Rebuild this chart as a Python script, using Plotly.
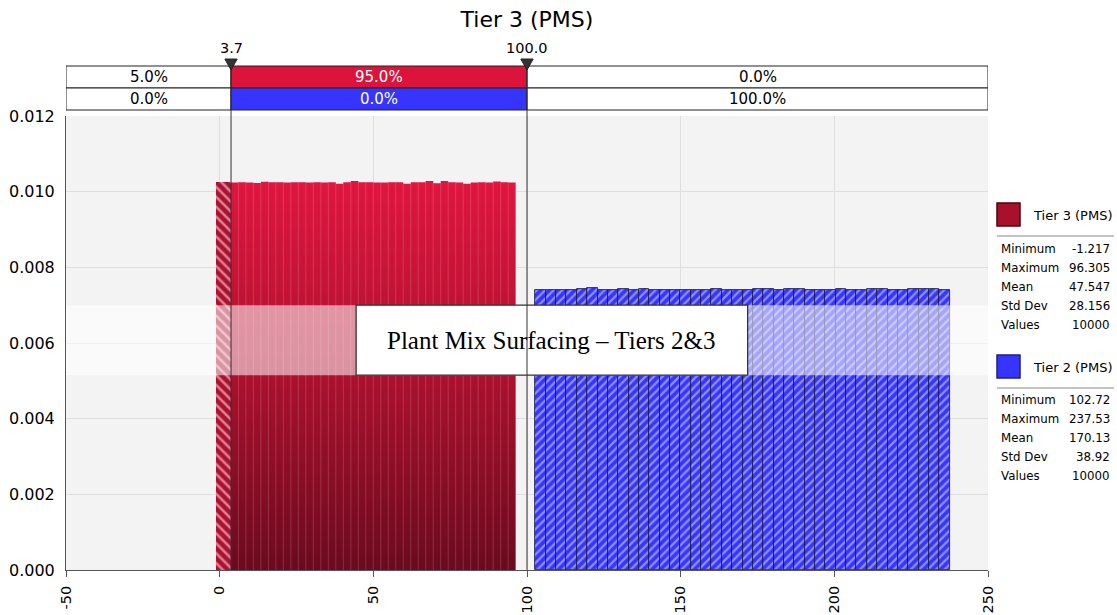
import numpy as np
import plotly.graph_objects as go

# ---------------- data ----------------
title_text = "Tier 3 (PMS)"
series_names = ["Tier 3 (PMS)", "Tier 2 (PMS)"]

tier3_min, tier3_max = -1.217, 96.305
tier2_min, tier2_max = 102.72, 237.53

tier3_heights = [0.01025, 0.01025, 0.01024, 0.01025, 0.01024, 0.01023, 0.01026, 0.01025,
                 0.01025, 0.01024, 0.01025, 0.01025, 0.01024, 0.01025, 0.01024, 0.01025,
                 0.01021, 0.01025, 0.01028, 0.01025, 0.01025, 0.01024, 0.01024, 0.01025,
                 0.01025, 0.01021, 0.01025, 0.01025, 0.01028, 0.01022, 0.01028, 0.01025,
                 0.01024, 0.01021, 0.01024, 0.01025, 0.01024, 0.01027, 0.01025, 0.01024]
tier2_heights = [0.00740, 0.00741, 0.00740, 0.00741, 0.00742, 0.00745, 0.00740, 0.00741,
                 0.00742, 0.00740, 0.00744, 0.00741, 0.00739, 0.00740, 0.00740, 0.00741,
                 0.00741, 0.00742, 0.00740, 0.00741, 0.00741, 0.00742, 0.00744, 0.00741,
                 0.00743, 0.00742, 0.00740, 0.00741, 0.00739, 0.00744, 0.00741, 0.00740,
                 0.00742, 0.00743, 0.00741, 0.00741, 0.00742, 0.00743, 0.00742, 0.00740]

delimiters = [3.7, 100.0]
delimiter_labels = ["3.7", "100.0"]
row1_pcts = ["5.0%", "95.0%", "0.0%"]
row2_pcts = ["0.0%", "0.0%", "100.0%"]

stat_labels = ["Minimum", "Maximum", "Mean", "Std Dev", "Values"]
tier3_stats = ["-1.217", "96.305", "47.547", "28.156", "10000"]
tier2_stats = ["102.72", "237.53", "170.13", "38.92", "10000"]

x_ticks = [-50, 0, 50, 100, 150, 200, 250]
y_ticks = [0.000, 0.002, 0.004, 0.006, 0.008, 0.010, 0.012]

box_label = "Plant Mix Surfacing – Tiers 2&3"

# ---------------- styling ----------------
RED = "#dc143c"
RED_DARK = "#6b0a1e"
BLUE = "#3535ff"
FONT = "DejaVu Sans"
W, H = 1117, 615
ML, MR, MT, MB = 66, 129, 116, 45
PW, PH = W - ML - MR, H - MT - MB


def px(X):
    return (X - ML) / PW


def py(Y):
    return (H - MB - Y) / PH


n3 = len(tier3_heights)
n2 = len(tier2_heights)
e3 = np.linspace(tier3_min, tier3_max, n3 + 1)
e2 = np.linspace(tier2_min, tier2_max, n2 + 1)
c3 = (e3[:-1] + e3[1:]) / 2
c2 = (e2[:-1] + e2[1:]) / 2
w3 = e3[1] - e3[0]
w2 = e2[1] - e2[0]

lo = delimiters[0]
hatched_idx = [i for i in range(n3) if e3[i + 1] <= lo + 0.1]
solid_start = len(hatched_idx)

fig = go.Figure()

# hatched red bins (below lower delimiter)
fig.add_trace(go.Bar(
    x=[c3[i] for i in hatched_idx], y=[tier3_heights[i] for i in hatched_idx],
    width=w3, marker=dict(color="#b01030", line=dict(width=0),
                          pattern=dict(shape="\\", fgcolor="white", bgcolor="#b01030",
                                       size=7, solidity=0.35, fillmode="overlay")),
    showlegend=False, hoverinfo="skip"))

# blue hatched bins
fig.add_trace(go.Bar(
    x=c2, y=tier2_heights, width=w2,
    marker=dict(color=BLUE, line=dict(color="#15153a", width=0.8),
                pattern=dict(shape="/", fgcolor="#e8e8ff", bgcolor=BLUE,
                             size=6, solidity=0.38, fillmode="overlay")),
    showlegend=False, hoverinfo="skip"))

# solid red gradient area (step)
sx = list(e3[solid_start:])
sy = list(tier3_heights[solid_start:]) + [tier3_heights[-1]]
fig.add_trace(go.Scatter(
    x=sx, y=sy, mode="lines", line=dict(width=0, shape="hv"),
    fill="tozeroy",
    fillgradient=dict(type="vertical", start=0, stop=max(tier3_heights),
                      colorscale=[[0, RED_DARK], [0.55, "#b3112f"], [1, "#e0163f"]]),
    showlegend=False, hoverinfo="skip"))

# bin separators for red solid region
lx, ly = [], []
for i in range(solid_start + 1, n3):
    lx += [e3[i], e3[i], None]
    ly += [0, min(tier3_heights[i - 1], tier3_heights[i]), None]
fig.add_trace(go.Scatter(x=lx, y=ly, mode="lines",
                         line=dict(color="rgba(255,255,255,0.16)", width=1),
                         showlegend=False, hoverinfo="skip"))

shapes = []
annotations = []


def ann(**kw):
    d = dict(showarrow=False, xanchor="center", yanchor="middle")
    d.update(kw)
    annotations.append(d)


# translucent band and label box
band_y0, band_y1 = 0.00515, 0.0070
shapes.append(dict(type="rect", xref="paper", yref="y", x0=0, x1=1, y0=band_y0, y1=band_y1,
                   fillcolor="rgba(255,255,255,0.55)", line=dict(width=0), layer="above"))
box_x0, box_x1 = 44.4, 171.8
shapes.append(dict(type="rect", xref="x", yref="y", x0=box_x0, x1=box_x1, y0=band_y0, y1=band_y1,
                   fillcolor="white", line=dict(color="#333", width=1.3), layer="above"))
ann(x=(box_x0 + box_x1) / 2, y=(band_y0 + band_y1) / 2, xref="x", yref="y", text=box_label,
    font=dict(family="Liberation Serif", size=25, color="black"))

# delimiter table
r_top, r_mid, r_bot = py(66), py(88), py(110)
col_edges = [x_ticks[0]] + delimiters + [x_ticks[-1]]
for row, (y0, y1, vals) in enumerate([(r_mid, r_top, row1_pcts), (r_bot, r_mid, row2_pcts)]):
    for j in range(3):
        fill = "white"
        tcol = "black"
        if j == 1:
            fill = RED if row == 0 else BLUE
            tcol = "white"
        shapes.append(dict(type="rect", xref="x", yref="paper", x0=col_edges[j], x1=col_edges[j + 1],
                           y0=y0, y1=y1, fillcolor=fill, line=dict(color="#222", width=1),
                           layer="above"))
        ann(x=(col_edges[j] + col_edges[j + 1]) / 2, y=(y0 + y1) / 2, xref="x", yref="paper",
            text=vals[j], font=dict(family=FONT, size=15, color=tcol))

# delimiter lines, triangles, labels
tri_w = 2.0
for d, lab in zip(delimiters, delimiter_labels):
    shapes.append(dict(type="line", xref="x", yref="paper", x0=d, x1=d, y0=0, y1=r_top,
                       line=dict(color="#333", width=1), layer="above"))
    shapes.append(dict(type="path", xref="x", yref="paper",
                       path=f"M {d - tri_w},{py(59)} L {d + tri_w},{py(59)} L {d},{py(70)} Z",
                       fillcolor="#333", line=dict(color="#222", width=1), layer="above"))
    ann(x=d, y=py(48), xref="x", yref="paper", text=lab,
        font=dict(family=FONT, size=14.5, color="black"))

# custom legend with stats
legend_blocks = [
    (series_names[0], tier3_stats, "#a8102c", "#4a0610", 203, [249, 268, 287, 306, 325]),
    (series_names[1], tier2_stats, BLUE, "#20207a", 355, [400, 419, 438, 457, 476]),
]
for name, stats, col, lcol, sq_top, rows in legend_blocks:
    shapes.append(dict(type="rect", xref="paper", yref="paper", x0=px(997), x1=px(1020),
                       y0=py(sq_top + 23), y1=py(sq_top), fillcolor=col,
                       line=dict(color=lcol, width=1.5)))
    ann(x=px(1031), y=py(sq_top + 12), xref="paper", yref="paper", text=name, xanchor="left",
        font=dict(family=FONT, size=13, color="black"))
    shapes.append(dict(type="line", xref="paper", yref="paper", x0=px(997), x1=px(1114),
                       y0=py(sq_top + 33), y1=py(sq_top + 33), line=dict(color="#888", width=1)))
    for lab, val, yy in zip(stat_labels, stats, rows):
        ann(x=px(999), y=py(yy), xref="paper", yref="paper", text=lab, xanchor="left",
            font=dict(family=FONT, size=11.8, color="black"))
        ann(x=px(1112), y=py(yy), xref="paper", yref="paper", text=val, xanchor="right",
            font=dict(family=FONT, size=11.8, color="black"))

fig.update_layout(
    width=W, height=H,
    margin=dict(l=ML, r=MR, t=MT, b=MB, autoexpand=False),
    paper_bgcolor="white", plot_bgcolor="#f3f3f3",
    barmode="overlay", bargap=0,
    title=dict(text=title_text, x=0.5, xref="paper", y=1 - 19 / H, yanchor="middle",
               font=dict(family=FONT, size=22, color="black")),
    shapes=shapes, annotations=annotations,
    showlegend=False,
)
fig.update_xaxes(range=[x_ticks[0], x_ticks[-1]], tickvals=x_ticks, ticktext=[str(t) for t in x_ticks],
                 tickangle=-90, showgrid=True, gridcolor="#dedede", gridwidth=1,
                 showline=True, linecolor="#555", linewidth=1, ticks="outside", ticklen=6,
                 tickcolor="#555", zeroline=False, automargin=False, ticklabelstandoff=3,
                 tickfont=dict(family=FONT, size=14.5, color="black"))
fig.update_yaxes(range=[0, 0.012], tickvals=y_ticks, ticktext=[f"{t:.3f}" for t in y_ticks],
                 showgrid=True, gridcolor="#dedede", gridwidth=1,
                 showline=True, linecolor="#555", linewidth=1, ticks="", zeroline=False,
                 automargin=False, ticklabelstandoff=7,
                 tickfont=dict(family=FONT, size=16, color="black"))

fig.write_html("out.html", config={"displayModeBar": False},
               post_script="document.body.style.margin='0';")
